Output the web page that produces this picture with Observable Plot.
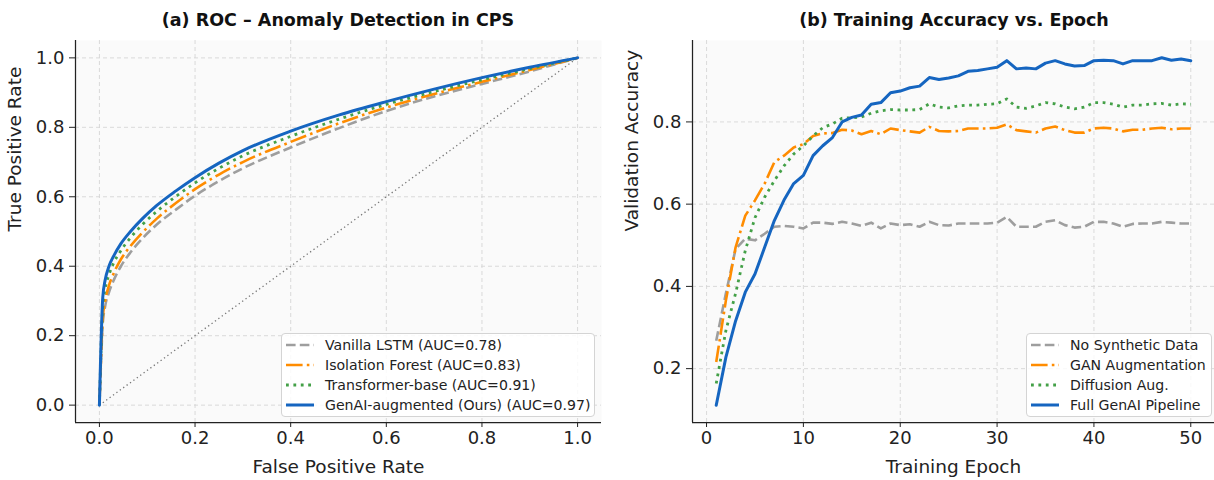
<!DOCTYPE html>
<html><head><meta charset="utf-8">
<script src="https://cdn.jsdelivr.net/npm/d3@7"></script>
<script src="https://cdn.jsdelivr.net/npm/@observablehq/plot@0.6"></script>
<style>
body{margin:0;background:#fff;font-family:"DejaVu Sans",sans-serif;}
#fig{position:relative;width:1214px;height:480px;overflow:hidden;background:#fff;}
.panel{position:absolute;top:0;width:607px;height:480px;}
.panel svg{position:absolute;top:30px;left:0;}
.title{position:absolute;top:9px;line-height:22px;font-weight:bold;font-size:17.5px;text-align:center;color:#111;white-space:nowrap;}
.legend{position:absolute;background:rgba(255,255,255,0.85);border:1px solid #d4d4d4;border-radius:4px;font-size:14.1px;color:#222;padding:1px 0;box-sizing:border-box;}
.legend .row{height:20px;display:flex;align-items:center;padding-left:4px;white-space:nowrap;}
.legend .row svg{position:static;margin-right:11px;flex:none;}
</style></head>
<body>
<div id="fig">
  <div class="panel" id="pa" style="left:0"></div>
  <div class="panel" id="pb" style="left:607px"></div>
</div>
<script>
// ---------- Panel (a): ROC data ----------
const fpr = [0, 0.003, 0.007, 0.012, 0.02, 0.03, 0.045, 0.065, 0.09, 0.12, 0.16, 0.2, 0.25, 0.3, 0.4, 0.5, 0.6, 0.7, 0.8, 0.9, 1.0];
const tprLSTM   = [0, 0.11, 0.235, 0.285, 0.325, 0.36, 0.40, 0.44, 0.48, 0.52, 0.563, 0.603, 0.645, 0.682, 0.742, 0.797, 0.847, 0.889, 0.925, 0.961, 1.0];
const tprIForest = [0, 0.12, 0.25, 0.30, 0.345, 0.38, 0.42, 0.458, 0.497, 0.537, 0.582, 0.622, 0.664, 0.700, 0.758, 0.811, 0.857, 0.896, 0.931, 0.965, 1.0];
const tprTransf = [0, 0.14, 0.285, 0.335, 0.375, 0.41, 0.445, 0.482, 0.52, 0.558, 0.601, 0.640, 0.682, 0.718, 0.774, 0.823, 0.866, 0.903, 0.937, 0.969, 1.0];
const tprGenAI  = [0, 0.16, 0.31, 0.36, 0.40, 0.43, 0.465, 0.50, 0.537, 0.575, 0.617, 0.655, 0.697, 0.733, 0.789, 0.835, 0.874, 0.91, 0.943, 0.973, 1.0];
const chance = [0, 1];
const rocLabels = ["Vanilla LSTM (AUC=0.78)", "Isolation Forest (AUC=0.83)", "Transformer-base (AUC=0.91)", "GenAI-augmented (Ours) (AUC=0.97)"];
const rocTicks = [0, 0.2, 0.4, 0.6, 0.8, 1.0];

// ---------- Panel (b): training accuracy ----------
const epochs = d3.range(1, 51);
const accNoSyn = [0.268,0.383,0.491,0.516,0.512,0.528,0.545,0.547,0.545,0.541,0.555,0.555,0.552,0.557,0.553,0.547,0.555,0.541,0.553,0.549,0.551,0.545,0.557,0.549,0.548,0.553,0.553,0.553,0.553,0.555,0.569,0.545,0.545,0.545,0.557,0.561,0.549,0.543,0.545,0.557,0.557,0.553,0.545,0.552,0.553,0.553,0.557,0.555,0.553,0.553];
const accGAN = [0.216,0.366,0.495,0.572,0.609,0.650,0.702,0.718,0.738,0.746,0.766,0.772,0.773,0.781,0.779,0.770,0.778,0.770,0.784,0.780,0.777,0.774,0.788,0.778,0.777,0.778,0.784,0.784,0.784,0.786,0.794,0.780,0.777,0.774,0.784,0.789,0.780,0.774,0.774,0.784,0.786,0.784,0.777,0.781,0.781,0.784,0.786,0.782,0.784,0.784];
const accDiff = [0.164,0.293,0.383,0.487,0.567,0.617,0.657,0.693,0.722,0.742,0.766,0.786,0.795,0.809,0.810,0.812,0.821,0.827,0.830,0.829,0.829,0.830,0.844,0.836,0.834,0.839,0.841,0.841,0.843,0.844,0.856,0.836,0.833,0.839,0.847,0.844,0.836,0.832,0.836,0.847,0.847,0.843,0.836,0.841,0.841,0.844,0.845,0.841,0.844,0.843];
const accFull = [0.111,0.228,0.316,0.386,0.430,0.495,0.560,0.610,0.650,0.670,0.718,0.742,0.762,0.800,0.811,0.817,0.843,0.847,0.871,0.875,0.883,0.887,0.908,0.903,0.907,0.912,0.923,0.925,0.929,0.933,0.949,0.929,0.931,0.929,0.943,0.949,0.941,0.936,0.937,0.949,0.950,0.949,0.941,0.949,0.949,0.949,0.956,0.950,0.953,0.949];
const accLabels = ["No Synthetic Data", "GAN Augmentation", "Diffusion Aug.", "Full GenAI Pipeline"];
const epochTicks = [0, 10, 20, 30, 40, 50];
const accTicks = [0.2, 0.4, 0.6, 0.8];

// ---------- styles ----------
const styles = [
  {stroke: "#9e9e9e", strokeWidth: 2.6, strokeDasharray: "9.6,4.2", strokeLinecap: "butt"},
  {stroke: "#ff8c00", strokeWidth: 2.6, strokeDasharray: "16.6,4.2,2.6,4.2", strokeLinecap: "butt"},
  {stroke: "#43a047", strokeWidth: 2.8, strokeDasharray: "2.8,4.6", strokeLinecap: "butt"},
  {stroke: "#1565c0", strokeWidth: 3, strokeLinecap: "round"}
];

const font = "DejaVu Sans";
function common(xDom, yDom, xTicks, yTicks, xFmt, yFmt, xLabel, yLabel) {
  return [
    Plot.frame({fill: "#fafafa", stroke: "none"}),
    Plot.gridX({ticks: xTicks, stroke: "#d6d6d6", strokeOpacity: 1, strokeWidth: 0.9, strokeDasharray: "4,3"}),
    Plot.gridY({ticks: yTicks, stroke: "#d6d6d6", strokeOpacity: 1, strokeWidth: 0.9, strokeDasharray: "4,3"}),
    Plot.axisX({ticks: xTicks, tickFormat: xFmt, tickSize: 5, tickPadding: 4, label: null, fontSize: 18, stroke: "#222", strokeWidth: 1}),
    Plot.axisY({ticks: yTicks, tickFormat: yFmt, tickSize: 6, tickPadding: 5, label: null, fontSize: 18, stroke: "#222", strokeWidth: 1}),
    Plot.ruleX([xDom[0]], {stroke: "#222", strokeWidth: 1.25}),
    Plot.ruleY([yDom[0]], {stroke: "#222", strokeWidth: 1.25}),
    Plot.text([xLabel], {frameAnchor: "bottom", dy: 45, fontSize: 18.5, lineAnchor: "middle", fill: "#222"}),
    Plot.text([yLabel], {frameAnchor: "left", dx: -60, rotate: -90, fontSize: 18.5, lineAnchor: "middle", fill: "#222"})
  ];
}

// Panel (a)
const rocSeries = [tprLSTM, tprIForest, tprTransf, tprGenAI];
const xA = [-0.05, 1.05], yA = [-0.05, 1.05];
const partsA = common(xA, yA, rocTicks, rocTicks, d3.format(".1f"), d3.format(".1f"), "False Positive Rate", "True Positive Rate");
const plotA = Plot.plot({
  width: 607, height: 450, marginTop: 10, marginBottom: 58, marginLeft: 75, marginRight: 6,
  style: {fontFamily: font, fontSize: "18px", color: "#222", background: "transparent", overflow: "visible"},
  x: {domain: xA}, y: {domain: yA},
  marks: [
    ...partsA.slice(0, 3),
    Plot.line(chance, {x: d => d, y: d => d, stroke: "#777", strokeWidth: 1.3, strokeDasharray: "1.3,2.9", strokeLinecap: "butt"}),
    ...rocSeries.map((s, k) => Plot.line(fpr, {x: d => d, y: (d, i) => s[i], curve: "monotone-x", ...styles[k]})),
    ...partsA.slice(3)
  ]
});
document.getElementById("pa").append(plotA);

// Panel (b)
const accSeries = [accNoSyn, accGAN, accDiff, accFull];
const xB = [-1.45, 52.45], yB = [0.069, 0.998];
const partsB = common(xB, yB, epochTicks, accTicks, d3.format("d"), d3.format(".1f"), "Training Epoch", "Validation Accuracy");
const plotB = Plot.plot({
  width: 607, height: 450, marginTop: 10, marginBottom: 58, marginLeft: 85, marginRight: 0,
  style: {fontFamily: font, fontSize: "18px", color: "#222", background: "transparent", overflow: "visible"},
  x: {domain: xB}, y: {domain: yB},
  marks: [
    ...partsB.slice(0, 3),
    ...accSeries.map((s, k) => Plot.line(epochs, {x: d => d, y: (d, i) => s[i], ...styles[k]})),
    ...partsB.slice(3)
  ]
});
document.getElementById("pb").append(plotB);

// Titles
function addTitle(panel, text, left, width) {
  const t = document.createElement("div");
  t.className = "title"; t.textContent = text;
  t.style.left = left + "px"; t.style.width = width + "px";
  panel.append(t);
}
addTitle(document.getElementById("pa"), "(a) ROC – Anomaly Detection in CPS", 75, 526);
addTitle(document.getElementById("pb"), "(b) Training Accuracy vs. Epoch", 85, 524);

// Legends
function addLegend(panel, labels, left, top, width) {
  const L = document.createElement("div");
  L.className = "legend";
  L.style.left = left + "px"; L.style.top = top + "px"; L.style.width = width + "px";
  labels.forEach((lab, k) => {
    const s = styles[k];
    const row = document.createElement("div"); row.className = "row";
    row.innerHTML = `<svg width="28" height="10"><line x1="0" x2="28" y1="5" y2="5" stroke="${s.stroke}" stroke-width="${s.strokeWidth}" ${s.strokeDasharray ? `stroke-dasharray="${s.strokeDasharray}"` : ""} stroke-linecap="butt"/></svg><span>${lab}</span>`;
    L.append(row);
  });
  panel.append(L);
}
addLegend(document.getElementById("pa"), rocLabels, 281, 333, 314);
addLegend(document.getElementById("pb"), accLabels, 1026 - 607, 333, 186);
</script>
</body></html>
